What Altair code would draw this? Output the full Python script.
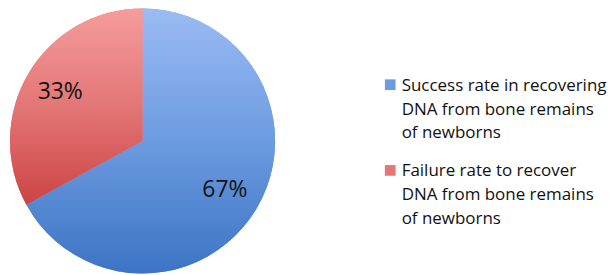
import altair as alt
import pandas as pd

categories = [
    "Success rate in recovering|DNA from bone remains|of newborns",
    "Failure rate to recover|DNA from bone remains|of newborns",
]
values = [67, 33]
labels = ["67%", "33%"]
solid_colors = ["#6E9BE0", "#E87474"]

df = pd.DataFrame({"category": categories, "value": values, "label": labels,
                   "order": [0, 1]})

blue_grad = alt.LinearGradient(
    gradient="linear", x1=0, y1=0, x2=0, y2=1,
    stops=[alt.GradientStop(color="#9BBBF3", offset=0),
           alt.GradientStop(color="#6C9BE0", offset=0.5),
           alt.GradientStop(color="#3C74C4", offset=1)])
red_grad = alt.LinearGradient(
    gradient="linear", x1=0, y1=0, x2=0, y2=1,
    stops=[alt.GradientStop(color="#F69C9C", offset=0),
           alt.GradientStop(color="#E37676", offset=0.5),
           alt.GradientStop(color="#CC4444", offset=1)])

base = alt.Chart(df).transform_window(
    cum="sum(value)", sort=[alt.SortField("order")]
).transform_calculate(start="datum.cum - datum.value")

theta_scale = alt.Scale(domain=[0, 100])

legend_layer = base.mark_arc(radius=133).encode(
    theta=alt.Theta("start:Q", scale=theta_scale),
    theta2="cum:Q",
    color=alt.Color(
        "category:N",
        sort=categories,
        scale=alt.Scale(domain=categories, range=solid_colors),
        legend=alt.Legend(
            title=None, orient="none", legendX=375, legendY=68,
            labelExpr="split(datum.label, '|')",
            labelFont="Open Sans", labelFontSize=17, labelColor="#111111",
            labelLimit=400, symbolType="square", symbolSize=115,
            symbolStrokeWidth=0, rowPadding=20, labelOffset=3,
            labelBaseline="alphabetic",
        ),
    ),
)

blue_layer = base.transform_filter("datum.order == 0").mark_arc(
    radius=133, color=blue_grad).encode(
    theta=alt.Theta("start:Q", scale=theta_scale), theta2="cum:Q")
red_layer = base.transform_filter("datum.order == 1").mark_arc(
    radius=133, color=red_grad).encode(
    theta=alt.Theta("start:Q", scale=theta_scale), theta2="cum:Q")

text_layer = base.transform_calculate(mid="datum.start + datum.value / 2").mark_text(
    radius=96, font="Open Sans", fontSize=23, color="#111111").encode(
    theta=alt.Theta("mid:Q", scale=theta_scale), text="label:N")

chart = alt.layer(legend_layer, blue_layer, red_layer, text_layer).properties(
    width=270, height=266, padding=0
).configure_view(stroke=None).configure(
    style={"guide-label": {"lineHeight": 24, "dy": 6}}
)

chart.save("out.html", embed_options={"renderer": "svg", "actions": False})
